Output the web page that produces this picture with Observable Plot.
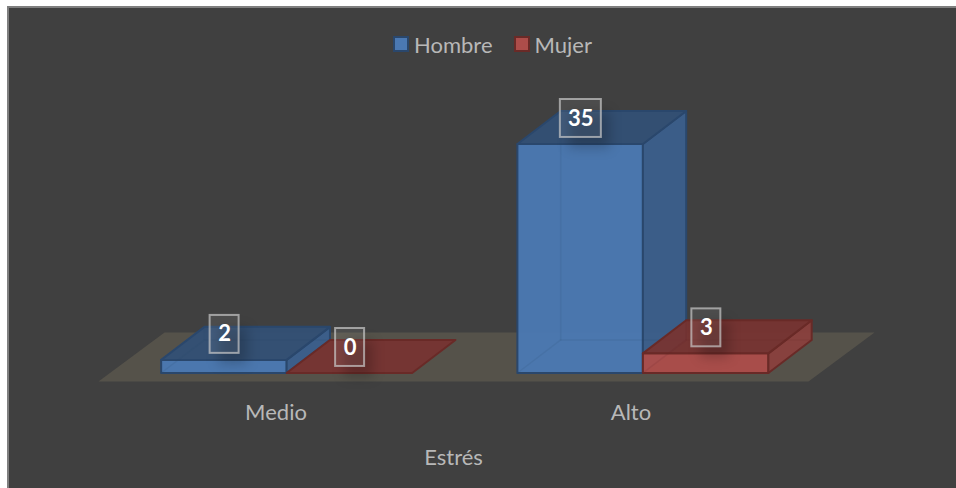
<!DOCTYPE html>
<html lang="es">
<head>
<meta charset="utf-8">
<script src="https://cdn.jsdelivr.net/npm/d3@7"></script>
<script src="https://cdn.jsdelivr.net/npm/@observablehq/plot@0.6"></script>
<style>
  html, body { margin: 0; padding: 0; background: #fff; }
  #chart { position: relative; width: 956px; height: 488px; overflow: hidden; }
  #panel { position: absolute; left: 7px; top: 6px; right: 0; bottom: 0; background: #404040;
           border-left: 2px solid #7f7f7f; border-top: 2px solid #7f7f7f; box-sizing: border-box; }
  #chart svg { position: absolute; left: 0; top: 0; }
  #legend { position: absolute; top: 27px; left: 393px; display: flex; align-items: center; height: 34px;
            font: 22px Lato, sans-serif; color: #b8b8b8; }
  #legend i { display: inline-block; width: 12px; height: 12px; border: 2px solid; margin-right: 5px; }
  #legend span { display: flex; align-items: center; margin-right: 21px; }
</style>
</head>
<body>
<div id="chart"><div id="panel"></div><div id="legend"></div></div>
<script>
const categories = ["Medio", "Alto"];
const seriesNames = ["Hombre", "Mujer"];
const hombre = [2, 35];
const mujer = [0, 3];
const seriesValues = [hombre, mujer];
const axisTitle = "Estrés";

const palette = [
  {front: "#4b79b3", side: "#3b5f8c", top: "#335075", edge: "#2a476c"},
  {front: "#ad4d4a", side: "#8a403d", top: "#773431", edge: "#692a27"}
];

// Oblique projection, in scale units (category widths across, values up).
const barW = 0.3535, barOffset = 0.1765, groupStep = 1.0035;
const depthX = 0.122, depthY = 5.05;
const floorDepthX = 0.186, floorDepthY = 7.5, floorFront = -1.3;

function poly(points) {
  return [...points, points[0]].map(([x, y]) => ({x, y}));
}
const face = (points, options) =>
  Plot.line(poly(points), {x: "x", y: "y", curve: "linear", strokeLinejoin: "round", ...options});

const bars = [];
categories.forEach((c, i) => seriesNames.forEach((s, k) => {
  bars.push({cat: c, i, k, value: seriesValues[k][i], left: i * groupStep + barOffset + k * barW});
}));

const barMarks = bars.flatMap(b => {
  const p = palette[b.k], l = b.left, r = l + barW, v = b.value;
  const style = {stroke: p.edge, strokeWidth: 2};
  const marks = [];
  if (v > 0) {
    marks.push(face([[l, 0], [r, 0], [r, v], [l, v]], {fill: p.front, fillOpacity: 0.95, ...style}));
    marks.push(face([[r, 0], [r + depthX, depthY], [r + depthX, v + depthY], [r, v]], {fill: p.side, fillOpacity: 0.95, ...style}));
  }
  marks.push(face([[l, v], [r, v], [r + depthX, v + depthY], [l + depthX, v + depthY]], {fill: p.top, fillOpacity: 0.95, ...style}));
  if (v > 0) {
    const hidden = {stroke: p.edge, strokeWidth: 1.5, strokeOpacity: 0.12};
    marks.push(Plot.line(poly([[l + depthX, depthY], [l + depthX, v + depthY]]).slice(0, 2), {x: "x", y: "y", ...hidden}));
    marks.push(Plot.line(poly([[l, 0], [l + depthX, depthY], [r + depthX, depthY]]).slice(0, 3), {x: "x", y: "y", ...hidden}));
  }
  return marks;
});

const labelRows = bars.map(b => {
  const text = String(b.value);
  const halfW = (text.length > 1 ? 20.5 : 14.5) / 355;
  const c = b.left + barW / 2 + 0.002;
  return {text, c, x1: c - halfW, x2: c + halfW, y1: b.value + 1.0, y2: b.value + 6.8,
          sx1: c - halfW + 0.025, sx2: c + halfW + 0.025, sy1: b.value - 0.7, sy2: b.value + 4.9};
});

const chart = Plot.plot({
  width: 956,
  height: 488,
  marginLeft: 98,
  marginRight: 148,
  marginTop: 0,
  marginBottom: 107,
  style: {background: "transparent", fontFamily: "Lato, sans-serif"},
  x: {domain: [0, 2], axis: null},
  y: {domain: [floorFront, 56.93], axis: null},
  marks: [
    face([[0, floorFront], [2, floorFront], [2 + floorDepthX, floorFront + floorDepthY], [floorDepthX, floorFront + floorDepthY]],
         {fill: "#55524a", stroke: "none"}),
    ...barMarks,
    Plot.rect(labelRows, {x1: "sx1", x2: "sx2", y1: "sy1", y2: "sy2", fill: "#000", fillOpacity: 0.2, imageFilter: "blur(6px)"}),
    Plot.rect(labelRows, {x1: "x1", x2: "x2", y1: "y1", y2: "y2", fill: "#fff", fillOpacity: 0.07, stroke: "#c9c9c9", strokeOpacity: 0.7, strokeWidth: 2}),
    Plot.text(labelRows, {x: "c", y: d => (d.y1 + d.y2) / 2, text: "text", fill: "#fff", fontWeight: 700, fontSize: 22}),
    Plot.axisX(categories.map((_, i) => i + 0.5), {
      tickSize: 0, tickPadding: 23, fontSize: 22, fill: "#b8b8b8",
      tickFormat: d => categories[Math.floor(d)],
      label: axisTitle, labelAnchor: "center", labelArrow: "none", labelOffset: 83
    })
  ]
});
document.getElementById("chart").appendChild(chart);

const legend = document.getElementById("legend");
seriesNames.forEach((s, k) => {
  const item = document.createElement("span");
  const sw = document.createElement("i");
  sw.style.background = palette[k].front;
  sw.style.borderColor = palette[k].edge;
  item.append(sw, s);
  legend.append(item);
});
</script>
</body>
</html>
